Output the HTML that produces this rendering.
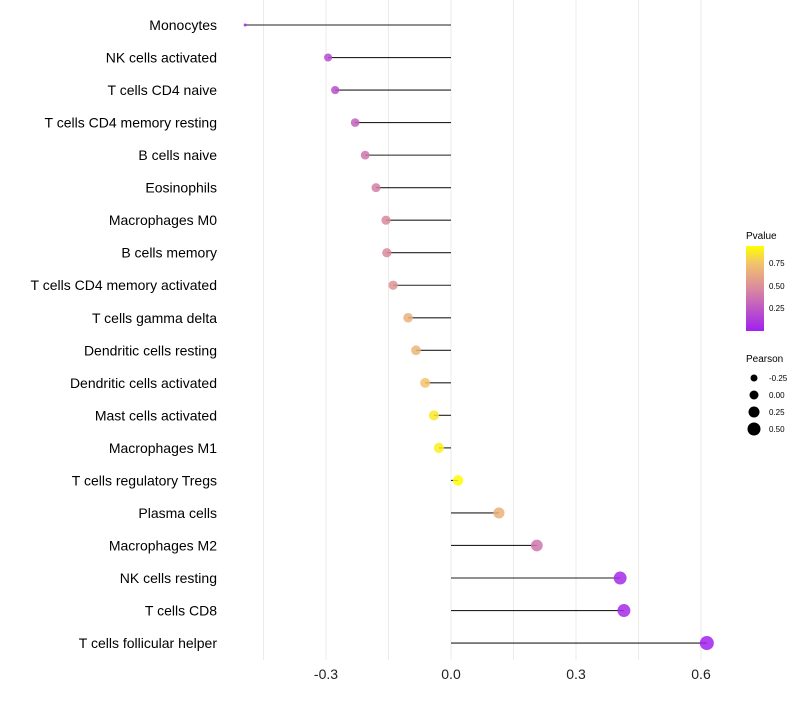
<!DOCTYPE html>
<html><head><meta charset="utf-8"><style>
body{margin:0;background:#fff;font-family:"Liberation Sans",sans-serif}
</style></head><body>
<svg id="chart" width="800" height="700" xmlns="http://www.w3.org/2000/svg" font-family="Liberation Sans, sans-serif">
<defs><linearGradient id="pg" x1="0" y1="1" x2="0" y2="0">
<stop offset="0" stop-color="#A020F0"/><stop offset="0.5" stop-color="#D98A9E"/><stop offset="0.8" stop-color="#F2C46A"/><stop offset="1" stop-color="#FFFF00"/></linearGradient></defs>
<g id="grid"></g><g id="marks"></g><g id="labels"></g>
<g>
<text x="746" y="239" font-size="10" fill="#000">Pvalue</text>
<rect x="746" y="246" width="18" height="85" fill="url(#pg)"/>
<text x="769" y="266" font-size="8">0.75</text>
<text x="769" y="289" font-size="8">0.50</text>
<text x="769" y="311" font-size="8">0.25</text>
</g>
<g id="sizeleg">
<text x="746" y="362" font-size="10">Pearson</text>
</g>
</svg>
<script>
const categories=["Monocytes","NK cells activated","T cells CD4 naive","T cells CD4 memory resting","B cells naive","Eosinophils","Macrophages M0","B cells memory","T cells CD4 memory activated","T cells gamma delta","Dendritic cells resting","Dendritic cells activated","Mast cells activated","Macrophages M1","T cells regulatory  Tregs","Plasma cells","Macrophages M2","NK cells resting","T cells CD8","T cells follicular helper"];
const pearson=[-0.494,-0.295,-0.278,-0.230,-0.206,-0.180,-0.156,-0.154,-0.139,-0.103,-0.084,-0.062,-0.041,-0.029,0.017,0.115,0.206,0.406,0.415,0.614];
const pvalues=[0.02,0.2,0.22,0.3,0.4,0.45,0.5,0.5,0.55,0.7,0.72,0.8,0.92,0.95,0.99,0.7,0.4,0.05,0.05,0.01];
const xTicks=[-0.3,0,0.3,0.6];
const xTickLabels=["-0.3","0.0","0.3","0.6"];
const sizeLegend=[-0.25,0,0.25,0.5];
const NS="http://www.w3.org/2000/svg";
const x=v=>451+v*416.67;
const y=i=>25+i*32.53;
const r=p=>p<-0.45?1.5:Math.sqrt(Math.max(1,26.9+36.3*p));
const rl=p=>3.5+4*(p+0.25);
function lerp(a,b,t){return a.map((v,i)=>Math.round(v+(b[i]-v)*t));}
function col(p){const s=[[0,[160,32,240]],[0.5,[217,138,158]],[0.8,[242,196,106]],[1,[255,255,0]]];
for(let k=1;k<s.length;k++){if(p<=s[k][0]){const t=(p-s[k-1][0])/(s[k][0]-s[k-1][0]);return "rgb("+lerp(s[k-1][1],s[k][1],t).join(",")+")";}}return "rgb(255,255,0)";}
function mk(t,a,p){const e=document.createElementNS(NS,t);for(const k in a)e.setAttribute(k,a[k]);p.appendChild(e);return e;}
const grid=document.getElementById('grid'),marks=document.getElementById('marks'),labels=document.getElementById('labels');
for(let v=-0.45;v<=0.61;v+=0.15){const g=mk('line',{x1:x(v),x2:x(v),y1:0,y2:660,stroke:'#ebebeb','stroke-width':1},grid);

}
xTicks.forEach((v,i)=>{const t=mk('text',{x:x(v),y:679,'font-size':14,'text-anchor':'middle',fill:'#222'},labels);t.textContent=xTickLabels[i];

});
categories.forEach((c,i)=>{
const t=mk('text',{x:217,y:y(i)+5,'font-size':14,'text-anchor':'end',fill:'#000'},labels);t.textContent=c;


const l=mk('line',{x1:x(0),x2:x(pearson[i]),y1:y(i),y2:y(i),stroke:'#222','stroke-width':1.1},marks);


const d=mk('circle',{cx:x(pearson[i]),cy:y(i),r:r(pearson[i]),fill:col(pvalues[i]),'fill-opacity':0.85},marks);


});
const sl=document.getElementById('sizeleg');
sizeLegend.forEach((v,i)=>{const cy=378+i*17;
const c=mk('circle',{cx:754,cy:cy,r:rl(v),fill:'#000'},sl);


const t=mk('text',{x:769,y:cy+3,'font-size':8},sl);t.textContent=v.toFixed(2);

});
</script>
</body></html>
